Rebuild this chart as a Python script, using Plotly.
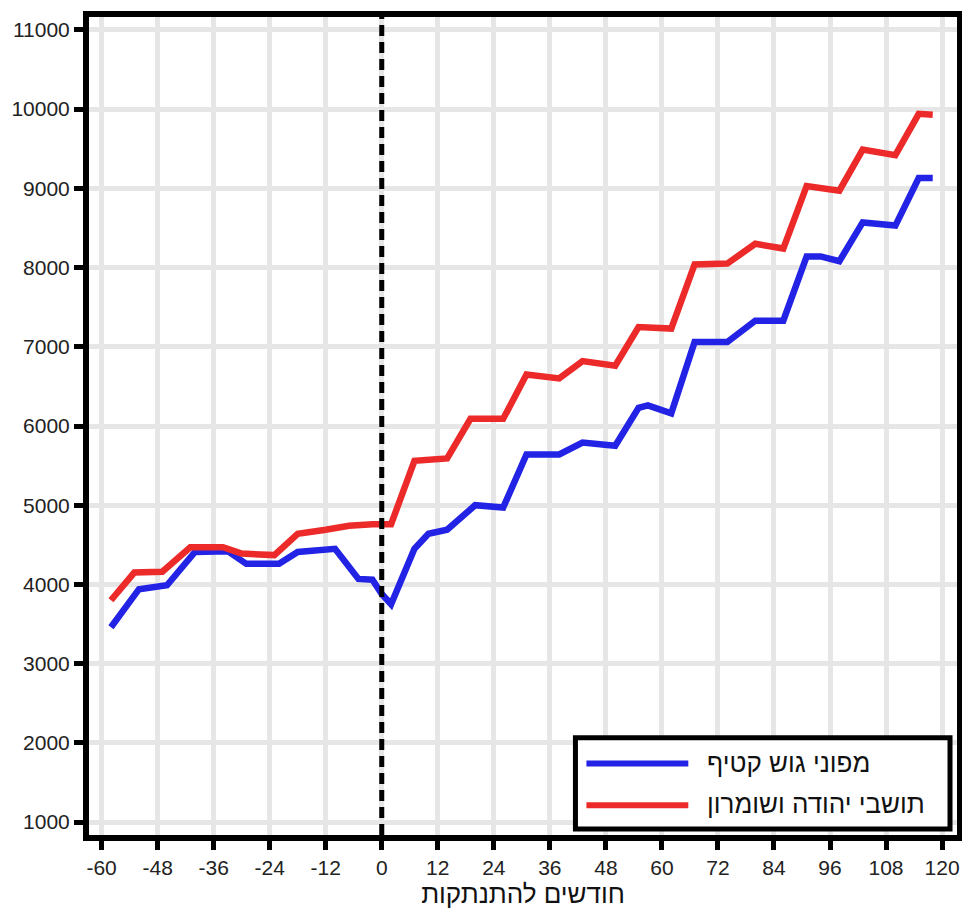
import plotly.graph_objects as go

# ---- data ----
blue_name = "מפוני גוש קטיף"
red_name = "תושבי יהודה ושומרון"
x_title = "חודשים להתנתקות"

blue_months = [-58, -52, -46, -40, -33, -29, -22, -18, -10, -5, -2, 0, 2, 7, 10, 14, 20, 26, 31,
               38, 43, 50, 55, 57, 62, 67, 74, 80, 86, 91, 94, 98, 103, 110, 115, 118]
blue_values = [3460, 3940, 3990, 4410, 4420, 4260, 4260, 4410, 4450, 4070, 4060, 3880, 3750, 4450,
               4640, 4690, 5000, 4970, 5640, 5640, 5790, 5750, 6230, 6260, 6160, 7060, 7060, 7330,
               7330, 8140, 8140, 8080, 8570, 8530, 9130, 9130]

red_months = [-58, -53, -47, -41, -34, -30, -23, -18, -12, -7, -2, 2, 7, 14, 19, 26, 31, 38, 43,
              50, 55, 62, 67, 74, 80, 86, 91, 98, 103, 110, 115, 118]
red_values = [3800, 4150, 4160, 4470, 4470, 4390, 4370, 4640, 4690, 4740, 4760, 4760, 5560, 5590,
              6090, 6090, 6650, 6600, 6820, 6760, 7250, 7230, 8040, 8050, 8300, 8240, 9030, 8970,
              9490, 9420, 9940, 9930]

x_ticks = list(range(-60, 121, 12))
y_ticks = list(range(1000, 11001, 1000))

BLUE = "#2323e6"
RED = "#ec2a2a"
FONT = "Liberation Sans, Arial, sans-serif"

OFF = 8  # default page margin of the html body
W, H = 970 - OFF, 917 - OFF
# plot-area edges in page pixels
PL, PR, PT, PB = 88, 957, 11, 835
L, R, T, B = PL - OFF, PR - OFF, PT - OFF, PB - OFF


def px(xp):
    return (xp - PL) / (PR - PL)


def py(yp):
    return (PB - yp) / (PB - PT)


fig = go.Figure()
fig.add_trace(go.Scatter(x=blue_months, y=blue_values, mode="lines", name=blue_name,
                         line=dict(color=BLUE, width=6.5), showlegend=False))
fig.add_trace(go.Scatter(x=red_months, y=red_values, mode="lines", name=red_name,
                         line=dict(color=RED, width=6.5), showlegend=False))

# dashed vertical line at month 0
fig.add_shape(type="line", xref="x", yref="paper", x0=0, x1=0, y0=0, y1=1,
              line=dict(color="black", width=5, dash="11px,6px"), layer="above")

# legend box drawn manually
fig.add_shape(type="rect", xref="paper", yref="paper",
              x0=px(575), x1=px(950), y0=py(829), y1=py(737),
              fillcolor="white", line=dict(color="black", width=5), layer="above")
for yy, col in [(763, BLUE), (805, RED)]:
    fig.add_shape(type="line", xref="paper", yref="paper",
                  x0=px(586), x1=px(688), y0=py(yy), y1=py(yy),
                  line=dict(color=col, width=6), layer="above")
for yy, txt in [(762, blue_name), (804, red_name)]:
    fig.add_annotation(xref="paper", yref="paper", x=px(705), y=py(yy), text=txt,
                       showarrow=False, xanchor="left", yanchor="middle",
                       font=dict(family=FONT, size=26, color="#111"))

axis_common = dict(showline=True, mirror=True, linecolor="black", linewidth=6,
                   showgrid=True, gridcolor="#e6e6e6", gridwidth=5, zeroline=False,
                   ticks="outside", ticklen=9, tickwidth=5, tickcolor="black",
                   tickfont=dict(family=FONT, size=21, color="#222"))

fig.update_xaxes(range=[-62.7, 123.2], tickvals=x_ticks, ticktext=[str(v) for v in x_ticks],
                 title=dict(text=x_title, font=dict(family=FONT, size=26, color="#111"), standoff=2),
                 **axis_common)
fig.update_yaxes(range=[837, 11163], tickvals=y_ticks, ticktext=[str(v) for v in y_ticks],
                 **axis_common)

fig.update_layout(width=W, height=H, plot_bgcolor="white", paper_bgcolor="white",
                  margin=dict(l=L, r=W - R, t=T, b=H - B, pad=0),
                  font=dict(family=FONT))

fig.write_html("out.html")
